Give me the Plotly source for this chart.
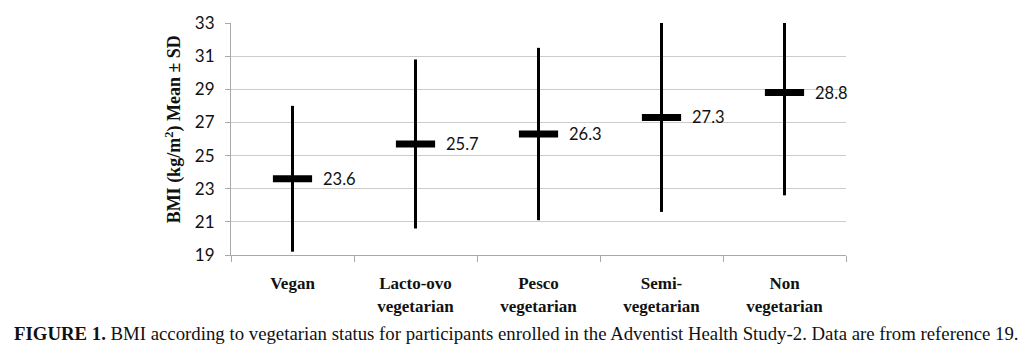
import plotly.graph_objects as go

categories = ["Vegan", "Lacto-ovo vegetarian", "Pesco vegetarian", "Semi-vegetarian", "Non vegetarian"]
tick_labels = ["Vegan", "Lacto-ovo<br>vegetarian", "Pesco<br>vegetarian", "Semi-<br>vegetarian", "Non<br>vegetarian"]
bmi_mean = [23.6, 25.7, 26.3, 27.3, 28.8]
bmi_sd = [4.4, 5.1, 5.2, 5.7, 6.2]
y_ticks = [19, 21, 23, 25, 27, 29, 31, 33]

W, H = 1024, 353
L, R, T, B = 231, 178, 14, 98
pw, ph = W - L - R, H - T - B

fig = go.Figure()
fig.add_trace(go.Scatter(
    x=categories, y=bmi_mean, mode="markers",
    marker=dict(symbol="line-ew", size=28, line=dict(width=7, color="black"), color="black"),
    error_y=dict(type="data", array=bmi_sd, visible=True, thickness=3, width=0, color="black"),
    showlegend=False, hoverinfo="skip",
))

for c, m in zip(categories, bmi_mean):
    fig.add_annotation(x=c, y=m, text=f"{m:.1f}", showarrow=False, xanchor="left",
                       yanchor="middle", xshift=28, font=dict(family="Lato", size=16.5, color="#111"))

fig.add_annotation(xref="paper", yref="paper", x=(174 - L) / pw, y=(T + ph - 124.5) / ph, textangle=-90,
                   text="<b>BMI (kg/m<sup>2</sup>) Mean ± SD</b>", showarrow=False,
                   xanchor="center", yanchor="middle",
                   font=dict(family="Liberation Serif", size=18, color="#111"))

fig.add_annotation(xref="paper", yref="paper", x=(12 - L) / pw, y=(T + ph - 337) / ph,
                   xanchor="left", yanchor="middle", showarrow=False,
                   text="<b>FIGURE 1.</b> BMI according to vegetarian status for participants enrolled in the Adventist Health Study-2. Data are from reference 19.",
                   font=dict(family="Liberation Serif", size=18.8, color="#111"))

fig.update_layout(
    width=W, height=H, margin=dict(l=L, r=R, t=T, b=B),
    paper_bgcolor="white", plot_bgcolor="white",
    xaxis=dict(type="category", tickvals=categories, ticktext=[f"<b>{t}</b>" for t in tick_labels],
               tickson="boundaries", ticks="outside", ticklen=6, tickcolor="#aaa",
               showline=True, linecolor="#aaa", linewidth=1, showgrid=False,
               ticklabelstandoff=13,
               tickfont=dict(family="Liberation Serif", size=17, color="#111"),
               range=[-0.5, 4.5]),
    yaxis=dict(range=[19, 33], tickvals=y_ticks, ticks="outside", ticklen=5, tickcolor="#aaa",
               showline=True, linecolor="#aaa", linewidth=1, ticklabelstandoff=7,
               showgrid=True, gridcolor="#cccccc", gridwidth=1, zeroline=False,
               tickfont=dict(family="Lato", size=17, color="#111")),
)

fig.write_html("out.html")
